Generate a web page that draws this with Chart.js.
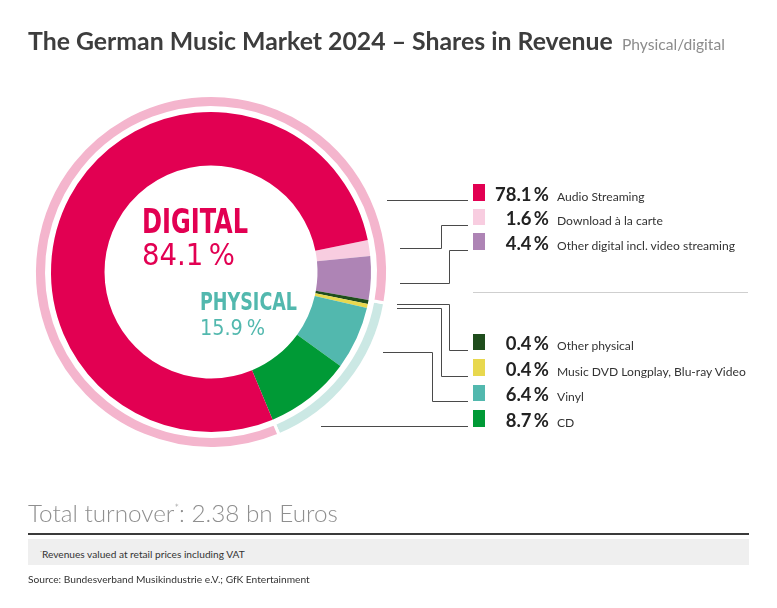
<!DOCTYPE html>
<html>
<head>
<meta charset="utf-8">
<title>The German Music Market 2024</title>
<script src="https://cdn.jsdelivr.net/npm/chart.js@4.4.1/dist/chart.umd.min.js"></script>
<style>
html, body { margin: 0; padding: 0; background: #fff; }
#page { position: relative; width: 777px; height: 608px; overflow: hidden; font-family: Lato, "Open Sans", sans-serif; }
#c { position: absolute; left: 0; top: 0; }
.t { position: absolute; white-space: nowrap; line-height: 1; transform-origin: 0 0; }
.title { font-weight: 700; font-size: 22px; color: #3d3d3d; }
.sub { font-size: 15px; color: #8c8c8c; }
.big { font-family: "Liberation Sans Narrow", "DejaVu Sans Condensed", sans-serif; }
.pct { font-weight: 700; font-size: 18px; color: #222; }
.lab { font-size: 13px; color: #333; }
.sw { position: absolute; width: 12px; height: 16.5px; }
.total { font-weight: 300; font-size: 25px; color: #8f8f8f; }
.total sup, .note sup { font-size: 0.45em; vertical-align: 0.9em; }
.small { font-size: 11px; color: #333; }
.rule { position: absolute; }
</style>
</head>
<body>
<div id="page">
  <canvas id="c" width="777" height="608"></canvas>
</div>
<script>
// Werte aus der Grafik
const categories = ['Audio Streaming', 'Download à la carte', 'Other digital incl. video streaming',
  'Other physical', 'Music DVD Longplay, Blu-ray Video', 'Vinyl', 'CD'];
const shares = [78.1, 1.6, 4.4, 0.4, 0.4, 6.4, 8.7];
const groupLabels = ['DIGITAL', 'PHYSICAL'];
const groupShares = [84.1, 15.9];
const totalTurnover = 2.38;

// Farben
const colors = ['#e20052', '#f8cde0', '#ae84b5', '#1f4d1c', '#e8d84e', '#52b8ae', '#009a36'];
const ringColors = ['#f4b5cd', '#cbe8e4'];
const groupTextColors = ['#e20052', '#52b8ae'];

// Reihenfolge im Uhrzeigersinn, beginnend mit "Download"
const order = [1, 2, 3, 4, 5, 6, 0];
const startAngle = 78.5;
const physStart = startAngle + (shares[1] + shares[2]) * 3.6;

// Legende / Hinweislinien (Layout)
const rowBase = [200.5, 225, 249.5, 350, 375.5, 401, 426.5];
const leaderStartX = [387, 400, 400, 397, 397, 383, 321];
const leaderStartY = [200, 248, 283, 304, 308, 352, 426];
const leaderElbowX = [null, 441, 449, 449, 441, 432, null];
const leaderEndX = 468;

const page = document.getElementById('page');
const pct = v => v.toFixed(1) + '\u2009%';

function add(cls, html, color) {
  const el = document.createElement('div');
  el.className = 't ' + cls;
  el.innerHTML = html;
  if (color) el.style.color = color;
  page.appendChild(el);
  return el;
}

// Text an Grundlinie setzen, optional auf Breite bringen
function place(el, x, base, opt) {
  opt = opt || {};
  const w = el.getBoundingClientRect().width;
  if (opt.w) {
    if (opt.stretch) el.style.transform = 'scaleX(' + (opt.w / w) + ')';
    else el.style.fontSize = parseFloat(getComputedStyle(el).fontSize) * opt.w / w + 'px';
  }
  const m = document.createElement('span');
  m.style.cssText = 'display:inline-block;width:0;height:0;';
  el.appendChild(m);
  const b = m.offsetTop;
  m.remove();
  const fw = el.getBoundingClientRect().width;
  el.style.left = (opt.right ? x - fw : x) + 'px';
  el.style.top = (base - b) + 'px';
}

function rule(x, y, w, h, color) {
  const d = document.createElement('div');
  d.className = 'rule';
  d.style.cssText += 'left:' + x + 'px;top:' + y + 'px;width:' + w + 'px;height:' + h + 'px;background:' + color;
  page.appendChild(d);
}

// Titel
place(add('title', 'The German Music Market 2024 – Shares in Revenue'), 28, 50, { w: 585 });
place(add('sub', 'Physical/digital'), 622, 50, { w: 103 });

// Beschriftung in der Mitte
const d1 = add('big', groupLabels[0], groupTextColors[0]);
d1.style.cssText += 'font-weight:700;font-size:33px;';
place(d1, 142, 232.7, { w: 106, stretch: true });
const d2 = add('big', pct(groupShares[0]), groupTextColors[0]);
d2.style.fontSize = '31px';
place(d2, 142, 265, { w: 93, stretch: true });
const p1 = add('big', groupLabels[1], groupTextColors[1]);
p1.style.cssText += 'font-weight:700;font-size:24px;';
place(p1, 200, 310, { w: 97, stretch: true });
const p2 = add('big', pct(groupShares[1]), groupTextColors[1]);
p2.style.fontSize = '21px';
place(p2, 200, 335, { w: 65, stretch: true });

// Legende
const longest = add('lab', categories[4]);
place(longest, 557, rowBase[4], { w: 189 });
const labSize = longest.style.fontSize;
const first = add('pct', pct(shares[0]));
place(first, 549, rowBase[0], { w: 54, right: true });
const pctSize = first.style.fontSize;
categories.forEach((name, i) => {
  const sq = document.createElement('div');
  sq.className = 'sw';
  sq.style.left = '473px';
  sq.style.top = (rowBase[i] - 16.5) + 'px';
  sq.style.background = colors[i];
  page.appendChild(sq);
  if (i > 0) {
    const p = add('pct', pct(shares[i]));
    p.style.fontSize = pctSize;
    place(p, 549, rowBase[i], { right: true });
  }
  if (i !== 4) {
    const l = add('lab', name);
    l.style.fontSize = labSize;
    place(l, 557, rowBase[i]);
  }
});
rule(473, 292, 275, 1, '#cfcfcf');

// Fußzeile
place(add('total', 'Total turnover<sup>*</sup>: ' + totalTurnover.toFixed(2) + ' bn Euros'), 28, 521.7, { w: 310 });
rule(28, 533, 721, 1.5, '#3a3a3a');
rule(28, 539, 721, 26, '#efefef');
place(add('small note', '<sup>*</sup>Revenues valued at retail prices including VAT'), 40, 558, { w: 205 });
place(add('small', 'Source: Bundesverband Musikindustrie e.V.; GfK Entertainment'), 28, 583, { w: 282 });

// Hinweislinien zwischen Ring und Legende
const leaders = {
  id: 'leaders',
  afterDraw(chart) {
    const c = chart.ctx;
    c.save();
    c.strokeStyle = '#4a4a4a';
    c.lineWidth = 1;
    categories.forEach((_, i) => {
      const y0 = Math.round(leaderStartY[i]) + 0.5;
      const y1 = Math.round(rowBase[i]) + 0.5;
      c.beginPath();
      c.moveTo(leaderStartX[i], y0);
      if (leaderElbowX[i] !== null) {
        const ex = Math.round(leaderElbowX[i]) + 0.5;
        c.lineTo(ex, y0);
        c.lineTo(ex, y1);
      }
      c.lineTo(leaderEndX, leaderElbowX[i] !== null ? y1 : y0);
      c.stroke();
    });
    c.restore();
  }
};

const ctx = document.getElementById('c').getContext('2d');
const outerR = 176.5;
const innerR = 106.5;
new Chart(ctx, {
  type: 'doughnut',
  data: {
    labels: order.map(i => categories[i]),
    datasets: [
      {
        // äußerer Ring: physisch / digital
        data: [groupShares[1], groupShares[0]],
        backgroundColor: [ringColors[1], ringColors[0]],
        borderColor: '#ffffff',
        borderWidth: 3,
        rotation: physStart,
        weight: 12
      },
      {
        // Abstand zwischen den Ringen
        data: [1],
        backgroundColor: 'rgba(0,0,0,0)',
        borderWidth: 0,
        weight: 4.5
      },
      {
        data: order.map(i => shares[i]),
        backgroundColor: order.map(i => colors[i]),
        borderWidth: 0,
        rotation: startAngle,
        weight: 53.5
      }
    ]
  },
  options: {
    responsive: false,
    animation: false,
    events: [],
    radius: outerR,
    cutout: (innerR / outerR * 100) + '%',
    hoverOffset: 0,
    layout: { padding: { left: 36, right: 391, top: 97, bottom: 161 } },
    plugins: { legend: { display: false }, tooltip: { enabled: false } }
  },
  plugins: [leaders]
});
</script>
</body>
</html>
